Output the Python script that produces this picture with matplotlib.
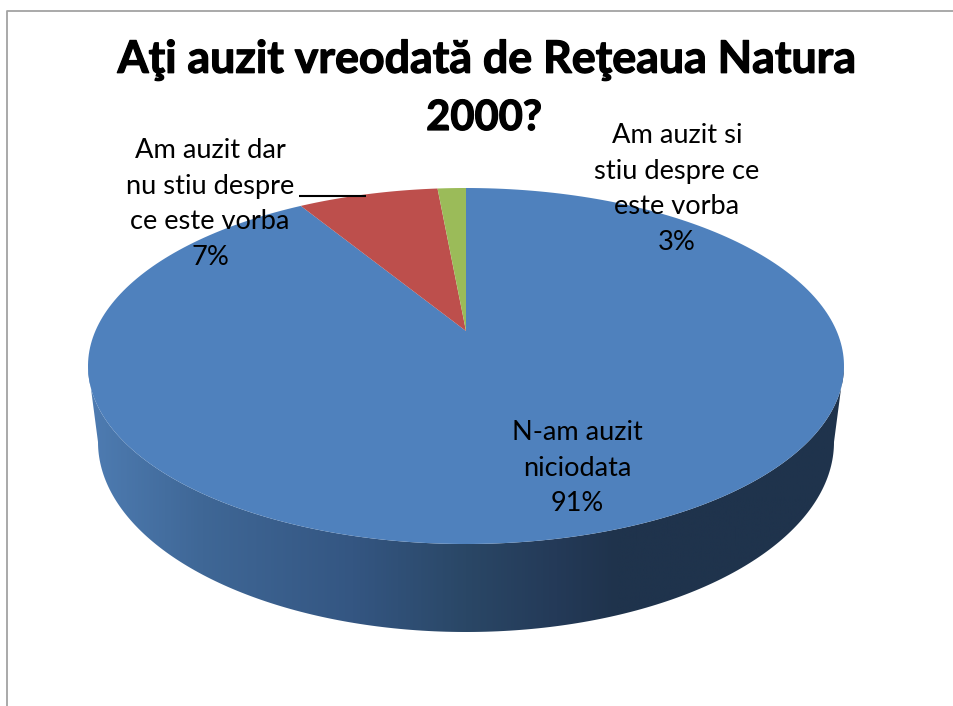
import numpy as np
import matplotlib
matplotlib.use("Agg")
import matplotlib.pyplot as plt
import matplotlib.patheffects as pe
from matplotlib.colors import LinearSegmentedColormap
from matplotlib.patches import Polygon

title_lines = ["Aţi auzit vreodată de Reţeaua Natura", "2000?"]
labels = ["N-am auzit\nniciodata\n91%", "Am auzit dar\nnu stiu despre\nce este vorba\n7%", "Am auzit si\nstiu despre ce\neste vorba\n3%"]
# share of the drawn top face (clockwise from 12 o'clock)
drawn_shares = [92.8, 6.0, 1.2]
colors = ["#4f81bd", "#bd4f4c", "#9bbb59"]
side_stops = [(0.0, "#4e7cb2"), (0.15, "#3f6796"), (0.35, "#345682"), (0.5, "#2a4766"),
              (0.62, "#243a58"), (0.7, "#1f334c"), (1.0, "#1f334c")]

plt.rcParams["font.family"] = ["Lato", "DejaVu Sans"]

fig = plt.figure(figsize=(9.54, 7.06), dpi=100)
ax = fig.add_axes([0, 0, 1, 1])
ax.set_xlim(0, 954)
ax.set_ylim(706, 0)
ax.axis("off")

# outer frame of the chart area
ax.plot([7.5, 7.5, 954], [706, 10.5, 10.5], color="#a3a3a3", lw=1.3, solid_capstyle="butt")

cx, cy, rx, ry = 466, 366, 378, 178
apex_y = 331
bx, by, brx, bry = 466, 442, 368, 190

# side of the cylinder with a horizontal shade
t = np.linspace(0, np.pi, 200)
side_x = np.r_[cx + rx * np.cos(t), bx + brx * np.cos(t[::-1])]
side_y = np.r_[cy + ry * np.sin(t), by + bry * np.sin(t[::-1])]
side = Polygon(np.c_[side_x, side_y], closed=True, fc="none", ec="none", transform=ax.transData)
ax.add_patch(side)
cmap = LinearSegmentedColormap.from_list("side", side_stops)
im = ax.imshow(np.linspace(0, 1, 512)[None, :], cmap=cmap, extent=[88, 844, 640, 360], aspect="auto", zorder=1)
im.set_clip_path(side)
ax.set_xlim(0, 954)
ax.set_ylim(706, 0)

# top face, wedges go clockwise from the top
edges = np.r_[0, np.cumsum(drawn_shares)] / sum(drawn_shares) * 2 * np.pi
for start, end, col in zip(edges[:-1], edges[1:], colors):
    a = np.linspace(start, end, 300)
    xs = np.r_[cx, cx + rx * np.sin(a)]
    ys = np.r_[apex_y, cy - ry * np.cos(a)]
    ax.fill(xs, ys, color=col, lw=0, zorder=2)

# leader line of the red slice
ax.plot([299, 366], [195.7, 195.7], color="black", lw=1.5, zorder=3, solid_capstyle="butt")

# title is heavier in the original, thicken it a bit
thick = [pe.withStroke(linewidth=0.9, foreground="black")]
ax.text(487, 60, title_lines[0], fontsize=32.2, fontweight="bold", ha="center", va="center", zorder=4, path_effects=thick)
ax.text(484, 118, title_lines[1], fontsize=30, fontweight="bold", ha="center", va="center", zorder=4, path_effects=thick)

ax.text(577, 468, labels[0], fontsize=19.5, ha="center", va="center", linespacing=1.53, zorder=4)
ax.text(210, 204, labels[1], fontsize=19.6, ha="center", va="center", linespacing=1.53, zorder=4)
ax.text(677, 189, labels[2], fontsize=19.6, ha="center", va="center", linespacing=1.53, zorder=4)

plt.savefig("out.png", dpi=100)
